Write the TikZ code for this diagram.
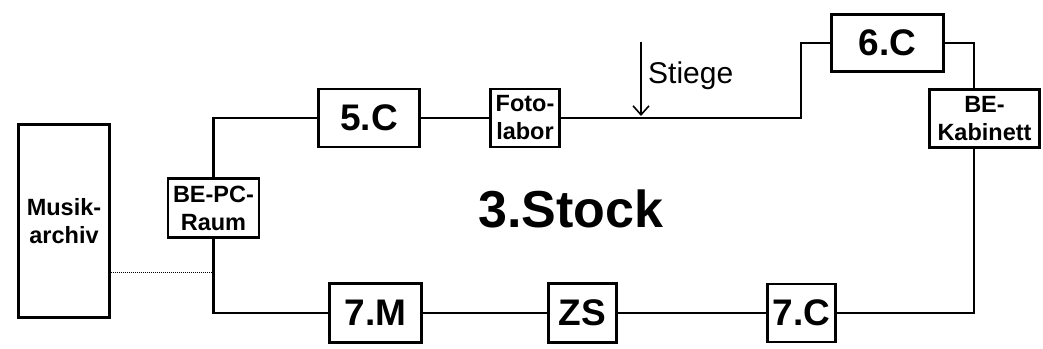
\documentclass[tikz,border=0pt]{standalone}
\usepackage{fontspec}
\setmainfont{Liberation Sans}
\usetikzlibrary{arrows.meta,calc,positioning}

\tikzset{
  room/.style={draw,line width=2.6pt,inner sep=0pt,align=center,
    font=\bfseries\fontsize{37}{40}\selectfont},
  smallroom/.style={room,font=\bfseries\fontsize{23.5}{28}\selectfont},
  wall/.style={line width=2.2pt}
}

\begin{document}
\begin{tikzpicture}[x=1pt,y=-1pt]
\useasboundingbox (0,0) rectangle (1043,348);
% Raeume
\node[smallroom,minimum width=91,minimum height=193] (musik) at (64,221) {Musik-\\archiv};
\node[smallroom,minimum width=91,minimum height=59] (bepc) at (213.5,208) {BE-PC-\\Raum};
\node[room,minimum width=101,minimum height=58] (c5) at (369,118) {5.C};
\node[smallroom,minimum width=69,minimum height=58] (foto) at (525,118) {Foto-\\labor};
\node[room,minimum width=112,minimum height=57] (c6) at (887.5,43) {6.C};
\node[smallroom,minimum width=110,minimum height=58] (bek) at (984.5,118.5) {BE-\\Kabinett};
\node[room,minimum width=92,minimum height=59] (m7) at (375.5,313) {7.M};
\node[room,minimum width=68,minimum height=59] (zs) at (582.5,313) {ZS};
\node[room,minimum width=68,minimum height=58] (c7) at (801.5,313) {7.C};
\node[font=\bfseries\fontsize{52}{56}\selectfont] (stock) at (571,209) {3.Stock};
% Gang
\coordinate (stepup) at (801,43);
\coordinate (rtop) at (974,43);
\draw[wall] (c5.west) -| (bepc.north);
\draw[wall] (bepc.south) |- (m7.west);
\draw[wall] (c5.east) -- (foto.west);
\draw[wall] (foto.east) -| (stepup) -- (c6.west);
\draw[wall] (c6.east) -- (rtop) -- (rtop |- bek.north);
\draw[wall] (rtop |- bek.south) |- (c7.east);
\draw[wall] (m7.east) -- (zs.west);
\draw[wall] (zs.east) -- (c7.west);
% Musikarchiv
\coordinate (tap) at (213,272);
\draw[line width=0.8pt,dash pattern=on 1pt off 1pt] (tap -| musik.east) -- (tap);
% Stiege
\node[anchor=base west,font=\fontsize{30}{34}\selectfont,inner sep=0pt] (stiege) at (648,83) {Stiege};
\coordinate (stiegetop) at (641,42);
\draw[line width=1.6pt,-{Straight Barb[length=9pt,width=16pt]}] (stiegetop) -- (stiegetop |- 0,116);
\end{tikzpicture}
\end{document}
